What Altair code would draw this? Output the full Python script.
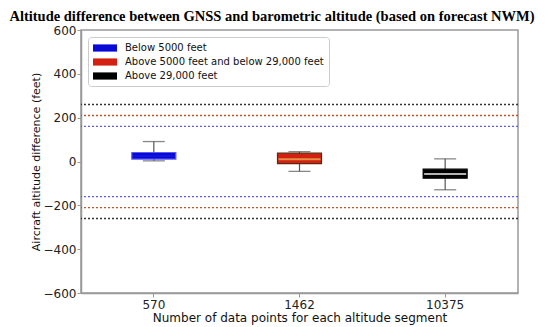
import altair as alt
import pandas as pd

segments = ["570", "1462", "10375"]
names = ["Below 5000 feet", "Above 5000 feet and below 29,000 feet", "Above 29,000 feet"]
fills = ["#0a0ad8", "#d42010", "#000000"]
strokes = ["#5b5bf0", "#5a2a10", "#000000"]
med_colors = ["#1515e0", "#e8c060", "#ffffff"]
whisk_lo = [3, -45, -129]
q1 = [11, -10, -76]
med = [25, 10, -57]
q3 = [41, 38, -35]
whisk_hi = [91, 45, 12]

ref_levels = [160, 210, 260, -160, -210, -260]
ref_colors = ["#5c5ce6", "#c0552a", "#333333", "#5c5ce6", "#c0552a", "#333333"]

box = pd.DataFrame({
    "seg": segments, "name": names, "fill": fills, "stroke": strokes,
    "medc": med_colors, "lo": whisk_lo, "q1": q1, "med": med, "q3": q3, "hi": whisk_hi,
})
refs = pd.DataFrame({"level": ref_levels, "c": ref_colors})

xenc = alt.X("seg:N", sort=segments,
             scale=alt.Scale(paddingInner=0, paddingOuter=0),
             axis=alt.Axis(title="Number of data points for each altitude segment",
                           labelAngle=0))
yscale = alt.Scale(domain=[-600, 600], nice=False, zero=False)
yaxis = alt.Axis(title="Aircraft altitude difference (feet)",
                 values=[-600, -400, -200, 0, 200, 400, 600])

base = alt.Chart(box)

ref_layer = alt.Chart(refs).mark_rule(strokeDash=[2, 2], strokeWidth=1.3).encode(
    y=alt.Y("level:Q", scale=yscale, axis=yaxis),
    stroke=alt.Color("c:N", scale=None),
)

whisk = base.mark_rule(color="#555555", strokeWidth=1.2).encode(
    x=xenc, y=alt.Y("lo:Q", scale=yscale, axis=yaxis), y2="hi:Q")
cap_lo = base.mark_tick(color="#555555", size=22, thickness=1.3).encode(
    x=xenc, y=alt.Y("lo:Q", scale=yscale))
cap_hi = base.mark_tick(color="#555555", size=22, thickness=1.3).encode(
    x=xenc, y=alt.Y("hi:Q", scale=yscale))

bars = base.mark_bar(size=44, strokeWidth=1.2).encode(
    x=xenc,
    y=alt.Y("q1:Q", scale=yscale, axis=yaxis), y2="q3:Q",
    fill=alt.Fill("name:N", sort=names,
                  scale=alt.Scale(domain=names, range=fills),
                  legend=alt.Legend(title=None, orient="none", legendX=7, legendY=7,
                                    symbolType="M-1,-0.6H3V0.6H-1Z", symbolSize=144,
                                    symbolStrokeWidth=0,
                                    labelFont="DejaVu Sans", labelFontSize=10,
                                    labelColor="#111111", labelOffset=20,
                                    labelLimit=400,
                                    rowPadding=3, padding=5,
                                    strokeColor="#cccccc", fillColor="white",
                                    cornerRadius=3)),
    stroke=alt.Color("stroke:N", scale=None),
)
medians = base.mark_tick(size=42, thickness=2).encode(
    x=xenc, y=alt.Y("med:Q", scale=yscale),
    color=alt.Color("medc:N", scale=None),
)

chart = alt.layer(ref_layer, whisk, cap_lo, cap_hi, bars, medians).properties(
    width=437, height=263,
    autosize=alt.AutoSizeParams(type="none"),
    padding={"left": 73, "top": 22, "right": 24, "bottom": 32},
    title=alt.Title("Altitude difference between GNSS and barometric altitude (based on forecast NWM)",
                    font="Liberation Serif", fontSize=14.5, fontWeight="bold",
                    color="#000000", anchor="middle", frame="group", dx=-27.5, dy=6, offset=6),
).configure_view(
    stroke="#999999", strokeWidth=1.5
).configure_axis(
    grid=False, domainColor="#999999", domainWidth=1.5,
    tickColor="#999999", tickSize=4, labelFont="DejaVu Sans", labelFontSize=12,
    labelColor="#222222", titleFont="DejaVu Sans", titleFontWeight="normal",
    titleColor="#111111",
).configure_axisY(
    titleFontSize=11, labelPadding=1, titlePadding=2,
).configure_axisX(
    titleFontSize=12, labelPadding=2, titlePadding=2,
)

chart.save("out.html", embed_options={"renderer": "svg", "actions": False})
